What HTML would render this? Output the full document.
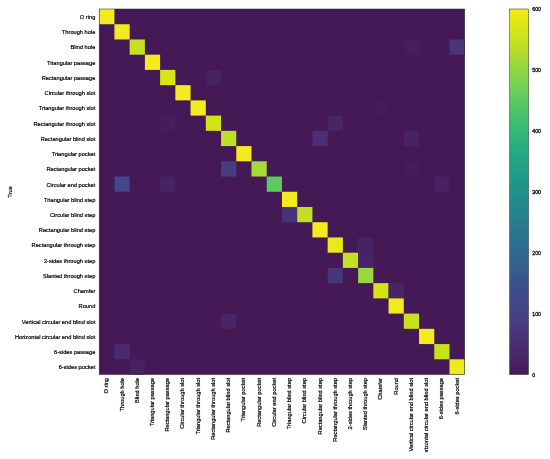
<!DOCTYPE html>
<html><head><meta charset="utf-8"><style>html,body{margin:0;padding:0;background:#fff;width:550px;height:459px;overflow:hidden;position:relative}svg{display:block;position:absolute;left:0;top:0}text{font-family:"Liberation Sans",sans-serif}.t{will-change:transform}</style></head>
<body><svg class="s" width="550" height="459" viewBox="0 0 550 459"><defs><linearGradient id="g" x1="0" y1="0" x2="0" y2="1"><stop offset="0.0000" stop-color="#f3eb1d"/><stop offset="0.0156" stop-color="#ede919"/><stop offset="0.0312" stop-color="#e5e815"/><stop offset="0.0469" stop-color="#dde614"/><stop offset="0.0625" stop-color="#d4e417"/><stop offset="0.0781" stop-color="#cbe21c"/><stop offset="0.0938" stop-color="#c2e022"/><stop offset="0.1094" stop-color="#b8de29"/><stop offset="0.1250" stop-color="#addc30"/><stop offset="0.1406" stop-color="#a2da37"/><stop offset="0.1562" stop-color="#98d83e"/><stop offset="0.1719" stop-color="#8ed645"/><stop offset="0.1875" stop-color="#84d44b"/><stop offset="0.2031" stop-color="#7ad151"/><stop offset="0.2188" stop-color="#70cf57"/><stop offset="0.2344" stop-color="#67cc5c"/><stop offset="0.2500" stop-color="#5ec962"/><stop offset="0.2656" stop-color="#56c667"/><stop offset="0.2812" stop-color="#4ec36b"/><stop offset="0.2969" stop-color="#46c06f"/><stop offset="0.3125" stop-color="#3fbc73"/><stop offset="0.3281" stop-color="#38b977"/><stop offset="0.3438" stop-color="#32b67a"/><stop offset="0.3594" stop-color="#2db27d"/><stop offset="0.3750" stop-color="#28ae80"/><stop offset="0.3906" stop-color="#25ab82"/><stop offset="0.4062" stop-color="#22a785"/><stop offset="0.4219" stop-color="#20a386"/><stop offset="0.4375" stop-color="#1fa088"/><stop offset="0.4531" stop-color="#1e9c89"/><stop offset="0.4688" stop-color="#1f988b"/><stop offset="0.4844" stop-color="#1f948c"/><stop offset="0.5000" stop-color="#21918c"/><stop offset="0.5156" stop-color="#228d8d"/><stop offset="0.5312" stop-color="#23898e"/><stop offset="0.5469" stop-color="#25858e"/><stop offset="0.5625" stop-color="#26828e"/><stop offset="0.5781" stop-color="#277e8e"/><stop offset="0.5938" stop-color="#297a8e"/><stop offset="0.6094" stop-color="#2a768e"/><stop offset="0.6250" stop-color="#2c728e"/><stop offset="0.6406" stop-color="#2e6f8e"/><stop offset="0.6562" stop-color="#2f6b8e"/><stop offset="0.6719" stop-color="#31678e"/><stop offset="0.6875" stop-color="#33638d"/><stop offset="0.7031" stop-color="#355f8d"/><stop offset="0.7188" stop-color="#375b8d"/><stop offset="0.7344" stop-color="#39568c"/><stop offset="0.7500" stop-color="#3b528b"/><stop offset="0.7656" stop-color="#3d4f8a"/><stop offset="0.7812" stop-color="#3f4c89"/><stop offset="0.7969" stop-color="#404988"/><stop offset="0.8125" stop-color="#424686"/><stop offset="0.8281" stop-color="#444384"/><stop offset="0.8438" stop-color="#453f82"/><stop offset="0.8594" stop-color="#473c7f"/><stop offset="0.8750" stop-color="#48387c"/><stop offset="0.8906" stop-color="#483579"/><stop offset="0.9062" stop-color="#493175"/><stop offset="0.9219" stop-color="#492d71"/><stop offset="0.9375" stop-color="#49296c"/><stop offset="0.9531" stop-color="#482567"/><stop offset="0.9688" stop-color="#472162"/><stop offset="0.9844" stop-color="#461c5c"/><stop offset="1.0000" stop-color="#451856"/></linearGradient></defs><rect x="99.2" y="9.0" width="365.52" height="365.52" fill="rgb(69,24,86)"/><rect x="99.20" y="9.00" width="15.23" height="15.23" fill="#f3eb1d"/><rect x="114.43" y="24.23" width="15.23" height="15.23" fill="#f3eb1d"/><rect x="129.66" y="39.46" width="15.23" height="15.23" fill="#c4e020"/><rect x="403.80" y="39.46" width="15.23" height="15.23" fill="#471d5d"/><rect x="419.03" y="39.46" width="15.23" height="15.23" fill="#461a59"/><rect x="449.49" y="39.46" width="15.23" height="15.23" fill="#48357a"/><rect x="144.89" y="54.69" width="15.23" height="15.23" fill="#f3eb1d"/><rect x="160.12" y="69.92" width="15.23" height="15.23" fill="#dae514"/><rect x="205.81" y="69.92" width="15.23" height="15.23" fill="#472162"/><rect x="175.35" y="85.15" width="15.23" height="15.23" fill="#f3eb1d"/><rect x="190.58" y="100.38" width="15.23" height="15.23" fill="#f3eb1d"/><rect x="373.34" y="100.38" width="15.23" height="15.23" fill="#461b5a"/><rect x="160.12" y="115.61" width="15.23" height="15.23" fill="#471d5d"/><rect x="205.81" y="115.61" width="15.23" height="15.23" fill="#d1e317"/><rect x="327.65" y="115.61" width="15.23" height="15.23" fill="#482567"/><rect x="221.04" y="130.84" width="15.23" height="15.23" fill="#bddf26"/><rect x="312.42" y="130.84" width="15.23" height="15.23" fill="#493074"/><rect x="403.80" y="130.84" width="15.23" height="15.23" fill="#482364"/><rect x="236.27" y="146.07" width="15.23" height="15.23" fill="#f3eb1d"/><rect x="221.04" y="161.30" width="15.23" height="15.23" fill="#453f82"/><rect x="251.50" y="161.30" width="15.23" height="15.23" fill="#a5db36"/><rect x="403.80" y="161.30" width="15.23" height="15.23" fill="#461c5c"/><rect x="114.43" y="176.53" width="15.23" height="15.23" fill="#424787"/><rect x="160.12" y="176.53" width="15.23" height="15.23" fill="#482466"/><rect x="266.73" y="176.53" width="15.23" height="15.23" fill="#5ec962"/><rect x="434.26" y="176.53" width="15.23" height="15.23" fill="#472162"/><rect x="281.96" y="191.76" width="15.23" height="15.23" fill="#f3eb1d"/><rect x="281.96" y="206.99" width="15.23" height="15.23" fill="#483378"/><rect x="297.19" y="206.99" width="15.23" height="15.23" fill="#c2e022"/><rect x="312.42" y="222.22" width="15.23" height="15.23" fill="#f3eb1d"/><rect x="327.65" y="237.45" width="15.23" height="15.23" fill="#ebe918"/><rect x="358.11" y="237.45" width="15.23" height="15.23" fill="#482364"/><rect x="342.88" y="252.68" width="15.23" height="15.23" fill="#c4e020"/><rect x="358.11" y="252.68" width="15.23" height="15.23" fill="#482567"/><rect x="327.65" y="267.91" width="15.23" height="15.23" fill="#48357a"/><rect x="358.11" y="267.91" width="15.23" height="15.23" fill="#95d840"/><rect x="373.34" y="283.14" width="15.23" height="15.23" fill="#d6e416"/><rect x="388.57" y="283.14" width="15.23" height="15.23" fill="#482567"/><rect x="388.57" y="298.37" width="15.23" height="15.23" fill="#f3eb1d"/><rect x="221.04" y="313.60" width="15.23" height="15.23" fill="#482567"/><rect x="403.80" y="313.60" width="15.23" height="15.23" fill="#c8e11d"/><rect x="419.03" y="313.60" width="15.23" height="15.23" fill="#461a59"/><rect x="419.03" y="328.83" width="15.23" height="15.23" fill="#f3eb1d"/><rect x="114.43" y="344.06" width="15.23" height="15.23" fill="#492c6f"/><rect x="434.26" y="344.06" width="15.23" height="15.23" fill="#c6e11f"/><rect x="129.66" y="359.29" width="15.23" height="15.23" fill="#482263"/><rect x="449.49" y="359.29" width="15.23" height="15.23" fill="#efea1a"/><rect x="99.2" y="9.0" width="365.52" height="365.52" fill="none" stroke="#222" stroke-width="0.5"/><rect x="509.7" y="9.0" width="18.80" height="365.52" fill="url(#g)"/><rect x="509.7" y="9.0" width="18.80" height="365.52" fill="none" stroke="#222" stroke-width="0.5"/></svg><svg class="t" width="550" height="459" viewBox="0 0 550 459" font-family="Liberation Sans, sans-serif" font-size="6.15" fill="#000" stroke="#000" stroke-width="0.21"><text transform="translate(95.3,19.02) scale(0.925,1)" text-anchor="end">O ring</text><text transform="translate(95.3,34.24) scale(0.925,1)" text-anchor="end">Through hole</text><text transform="translate(95.3,49.48) scale(0.925,1)" text-anchor="end">Blind hole</text><text transform="translate(95.3,64.70) scale(0.925,1)" text-anchor="end">Triangular passage</text><text transform="translate(95.3,79.94) scale(0.925,1)" text-anchor="end">Rectangular passage</text><text transform="translate(95.3,95.17) scale(0.925,1)" text-anchor="end">Circular through slot</text><text transform="translate(95.3,110.40) scale(0.925,1)" text-anchor="end">Triangular through slot</text><text transform="translate(95.3,125.63) scale(0.925,1)" text-anchor="end">Rectangular through slot</text><text transform="translate(95.3,140.86) scale(0.925,1)" text-anchor="end">Rectangular blind slot</text><text transform="translate(95.3,156.09) scale(0.925,1)" text-anchor="end">Triangular pocket</text><text transform="translate(95.3,171.31) scale(0.925,1)" text-anchor="end">Rectangular pocket</text><text transform="translate(95.3,186.55) scale(0.925,1)" text-anchor="end">Circular end pocket</text><text transform="translate(95.3,201.78) scale(0.925,1)" text-anchor="end">Triangular blind step</text><text transform="translate(95.3,217.01) scale(0.925,1)" text-anchor="end">Circular blind step</text><text transform="translate(95.3,232.24) scale(0.925,1)" text-anchor="end">Rectangular blind step</text><text transform="translate(95.3,247.47) scale(0.925,1)" text-anchor="end">Rectangular through step</text><text transform="translate(95.3,262.69) scale(0.925,1)" text-anchor="end">2-sides through step</text><text transform="translate(95.3,277.93) scale(0.925,1)" text-anchor="end">Slanted through step</text><text transform="translate(95.3,293.15) scale(0.925,1)" text-anchor="end">Chamfer</text><text transform="translate(95.3,308.38) scale(0.925,1)" text-anchor="end">Round</text><text transform="translate(95.3,323.62) scale(0.925,1)" text-anchor="end">Vertical circular end blind slot</text><text transform="translate(95.3,338.84) scale(0.925,1)" text-anchor="end">Horizontal circular end blind slot</text><text transform="translate(95.3,354.07) scale(0.925,1)" text-anchor="end">6-sides passage</text><text transform="translate(95.3,369.31) scale(0.925,1)" text-anchor="end">6-sides pocket</text><text transform="translate(108.31,378) rotate(-90) scale(0.925,1)" text-anchor="end">O ring</text><text transform="translate(123.55,378) rotate(-90) scale(0.925,1)" text-anchor="end">Through hole</text><text transform="translate(138.78,378) rotate(-90) scale(0.925,1)" text-anchor="end">Blind hole</text><text transform="translate(154.00,378) rotate(-90) scale(0.925,1)" text-anchor="end">Triangular passage</text><text transform="translate(169.24,378) rotate(-90) scale(0.925,1)" text-anchor="end">Rectangular passage</text><text transform="translate(184.47,378) rotate(-90) scale(0.925,1)" text-anchor="end">Circular through slot</text><text transform="translate(199.69,378) rotate(-90) scale(0.925,1)" text-anchor="end">Triangular through slot</text><text transform="translate(214.93,378) rotate(-90) scale(0.925,1)" text-anchor="end">Rectangular through slot</text><text transform="translate(230.16,378) rotate(-90) scale(0.925,1)" text-anchor="end">Rectangular blind slot</text><text transform="translate(245.38,378) rotate(-90) scale(0.925,1)" text-anchor="end">Triangular pocket</text><text transform="translate(260.62,378) rotate(-90) scale(0.925,1)" text-anchor="end">Rectangular pocket</text><text transform="translate(275.85,378) rotate(-90) scale(0.925,1)" text-anchor="end">Circular end pocket</text><text transform="translate(291.07,378) rotate(-90) scale(0.925,1)" text-anchor="end">Triangular blind step</text><text transform="translate(306.31,378) rotate(-90) scale(0.925,1)" text-anchor="end">Circular blind step</text><text transform="translate(321.54,378) rotate(-90) scale(0.925,1)" text-anchor="end">Rectangular blind step</text><text transform="translate(336.76,378) rotate(-90) scale(0.925,1)" text-anchor="end">Rectangular through step</text><text transform="translate(352.00,378) rotate(-90) scale(0.925,1)" text-anchor="end">2-sides through step</text><text transform="translate(367.23,378) rotate(-90) scale(0.925,1)" text-anchor="end">Slanted through step</text><text transform="translate(382.45,378) rotate(-90) scale(0.925,1)" text-anchor="end">Chamfer</text><text transform="translate(397.69,378) rotate(-90) scale(0.925,1)" text-anchor="end">Round</text><text transform="translate(412.92,378) rotate(-90) scale(0.925,1)" text-anchor="end">Vertical circular end blind slot</text><text transform="translate(428.14,378) rotate(-90) scale(0.925,1)" text-anchor="end">Horizontal circular end blind slot</text><text transform="translate(443.38,378) rotate(-90) scale(0.925,1)" text-anchor="end">6-sides passage</text><text transform="translate(458.61,378) rotate(-90) scale(0.925,1)" text-anchor="end">6-sides pocket</text><rect x="0" y="452.3" width="550" height="20" fill="#fff" stroke="none"/><text transform="translate(11.5,192) rotate(-90) scale(0.925,1)" text-anchor="middle">True</text><text transform="translate(532.3,376.92) scale(0.85,1)" stroke-width="0.32">0</text><text transform="translate(532.3,316.00) scale(0.85,1)" stroke-width="0.32">100</text><text transform="translate(532.3,255.08) scale(0.85,1)" stroke-width="0.32">200</text><text transform="translate(532.3,194.16) scale(0.85,1)" stroke-width="0.32">300</text><text transform="translate(532.3,133.24) scale(0.85,1)" stroke-width="0.32">400</text><text transform="translate(532.3,72.32) scale(0.85,1)" stroke-width="0.32">500</text><text transform="translate(532.3,11.40) scale(0.85,1)" stroke-width="0.32">600</text></svg></body></html>
